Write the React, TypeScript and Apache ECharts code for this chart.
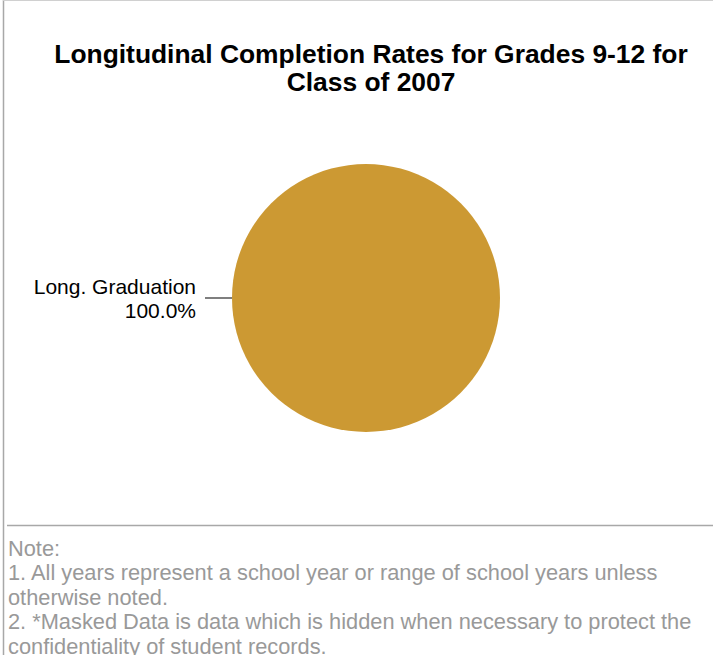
import React, { useEffect, useRef } from "react";
import * as echarts from "echarts";

const titleLines = ["Longitudinal Completion Rates for Grades 9-12 for", "Class of 2007"];
const categories = ["Long. Graduation"];
const values = [100.0];
const colors = ["#CC9933"];
const noteLines = [
  "Note:",
  "1. All years represent a school year or range of school years unless",
  "otherwise noted.",
  "2. *Masked Data is data which is hidden when necessary to protect the",
  "confidentiality of student records.",
];

const FONT = "'Liberation Sans', Arial, Helvetica, sans-serif";

export default function App() {
  const ref = useRef<HTMLDivElement>(null);
  useEffect(() => {
    document.body.style.margin = "0";
    const chart = echarts.init(ref.current!, undefined, { renderer: "svg" });
    const total = values.reduce((a, b) => a + b, 0);
    chart.setOption({
      animation: false,
      backgroundColor: "#ffffff",
      title: {
        text: titleLines.join("\n"),
        left: 366,
        top: 35,
        textAlign: "center",
        textStyle: {
          fontFamily: FONT,
          fontSize: 26.4,
          fontWeight: "bold",
          color: "#000000",
          lineHeight: 28,
        },
      },
      series: [
        {
          type: "pie",
          center: [366, 298],
          radius: [0, 134],
          startAngle: 0,
          clockwise: true,
          silent: true,
          data: categories.map((c, i) => ({
            name: c,
            value: values[i],
            itemStyle: { color: colors[i] },
          })),
          label: {
            show: true,
            position: "outside",
            formatter: (p: any) => `${p.name}\n${((p.value / total) * 100).toFixed(1)}%`,
            fontFamily: FONT,
            fontSize: 21,
            lineHeight: 24,
            color: "#000000",
            align: "right",
            distanceToLabelLine: 9,
          },
          labelLine: {
            show: true,
            length: 10,
            length2: 17,
            lineStyle: { color: "#555555", width: 1.5 },
          },
        },
      ],
      graphic: [
        {
          type: "line",
          shape: { x1: 3.5, y1: 0, x2: 3.5, y2: 655 },
          style: { stroke: "#a8a8a8", lineWidth: 1.5 },
        },
        {
          type: "line",
          shape: { x1: 3, y1: 0.5, x2: 713, y2: 0.5 },
          style: { stroke: "#d0d0d0", lineWidth: 1 },
        },
        {
          type: "line",
          shape: { x1: 7, y1: 525.5, x2: 713, y2: 525.5 },
          style: { stroke: "#a8a8a8", lineWidth: 1.5 },
        },
        {
          type: "text",
          left: 8,
          top: 536,
          style: {
            text: noteLines.join("\n"),
            fontFamily: FONT,
            fontSize: 21.8,
            lineHeight: 24.5,
            fill: "#999999",
          },
        },
      ],
    });
    return () => chart.dispose();
  }, []);
  return (
    <div
      ref={ref}
      style={{ position: "absolute", left: 0, top: 0, width: 713, height: 655 }}
    />
  );
}
